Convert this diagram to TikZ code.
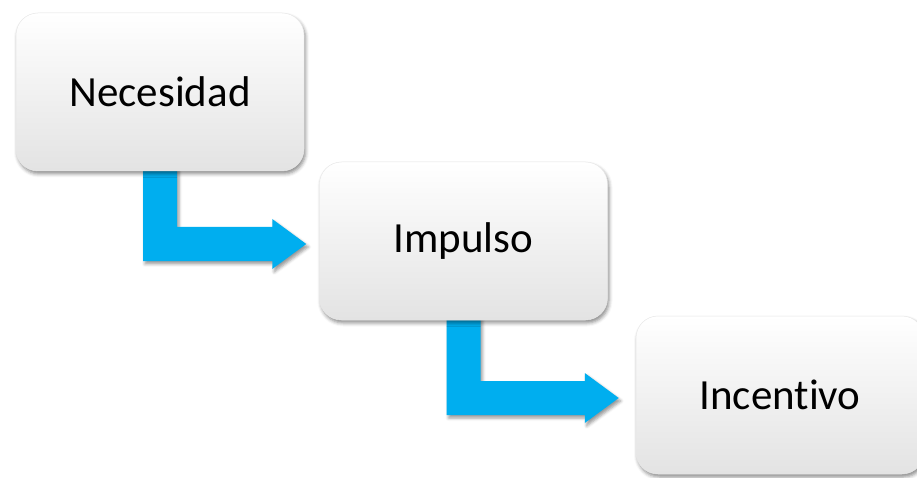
\documentclass[tikz,border=0pt]{standalone}
\usepackage{fontspec}
\setmainfont{Carlito}[Ligatures=NoCommon]
\usetikzlibrary{calc,shadows.blur}
\pgfdeclarelayer{background}
\pgfsetlayers{background,main}
\definecolor{arrowblue}{RGB}{0,174,239}
\tikzset{
  stagebox/.style={rectangle, rounded corners=22pt,
    minimum width=288pt, minimum height=158pt,
    draw=black!9, line width=0.5pt,
    top color=white, middle color=white, bottom color=black!11,
    blur shadow={shadow xshift=1.5pt, shadow yshift=-3pt,
      shadow blur radius=3.5pt, shadow opacity=45},
    font=\fontsize{43}{50}\selectfont},
  bentfill/.style={fill=arrowblue,
    blur shadow={shadow xshift=2pt, shadow yshift=-3pt,
      shadow blur radius=3pt, shadow opacity=40}}
}
% L-shaped block arrow from the bottom of #1 to the left side of #2
\newcommand\bentarrow[3]{%
  \path[bentfill] let \p1=(#1.south), \p2=(#2.west) in
    (\x1-17pt,\y1+4pt) -- (\x1-17pt,\y2-3pt-17pt)
    -- (\x2-#3-34pt,\y2-3pt-17pt) -- (\x2-#3-34pt,\y2-3pt-25pt)
    -- (\x2-#3,\y2-3pt) -- (\x2-#3-34pt,\y2-3pt+25pt)
    -- (\x2-#3-34pt,\y2-3pt+17pt) -- (\x1+17pt,\y2-3pt+17pt)
    -- (\x1+17pt,\y1+4pt) -- cycle;}
\begin{document}
\begin{tikzpicture}[x=1pt,y=1pt]
  \useasboundingbox (0,0) rectangle (917,477);
  \node[stagebox] (n1) at (160,385) {Necesidad};
  \node[stagebox] (n2) at (463.5,236) {Impulso};
  \node[stagebox] (n3) at (780,82) {Incentivo};
  \begin{pgfonlayer}{background}
    \bentarrow{n1}{n2}{13pt}
    \bentarrow{n2}{n3}{17pt}
  \end{pgfonlayer}
\end{tikzpicture}
\end{document}
